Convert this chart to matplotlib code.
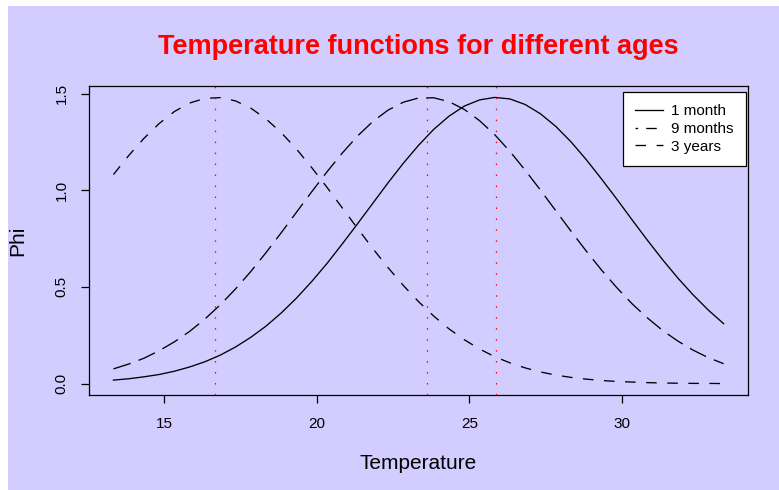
import matplotlib
matplotlib.use("Agg")
import matplotlib.pyplot as plt
from matplotlib.lines import Line2D
from matplotlib.patches import Rectangle

plt.rcParams['font.family'] = ['Liberation Sans', 'DejaVu Sans']
plt.rcParams['lines.scale_dashes'] = False

# ---- data ----
temperature = [13.33, 13.83, 14.33, 14.83, 15.33, 15.83, 16.33, 16.83, 17.33, 17.83,
               18.33, 18.83, 19.33, 19.83, 20.33, 20.83, 21.33, 21.83, 22.33, 22.83,
               23.33, 23.83, 24.33, 24.83, 25.33, 25.83, 26.33, 26.83, 27.33, 27.83,
               28.33, 28.83, 29.33, 29.83, 30.33, 30.83, 31.33, 31.83, 32.33, 32.83,
               33.33]
phi_1month = [0.018, 0.025, 0.035, 0.047, 0.064, 0.086, 0.113, 0.147, 0.189, 0.239,
              0.297, 0.365, 0.442, 0.528, 0.621, 0.722, 0.826, 0.932, 1.038, 1.139,
              1.232, 1.315, 1.383, 1.435, 1.467, 1.480, 1.472, 1.443, 1.395, 1.330,
              1.250, 1.158, 1.058, 0.954, 0.847, 0.742, 0.641, 0.546, 0.459, 0.380,
              0.310]
phi_9months = [0.076, 0.101, 0.131, 0.170, 0.216, 0.270, 0.334, 0.407, 0.489, 0.579,
               0.677, 0.780, 0.886, 0.992, 1.095, 1.192, 1.280, 1.355, 1.414, 1.455,
               1.477, 1.478, 1.458, 1.418, 1.360, 1.287, 1.200, 1.103, 1.000, 0.894,
               0.788, 0.685, 0.587, 0.496, 0.413, 0.340, 0.275, 0.220, 0.173, 0.134,
               0.103]
phi_3years = [1.081, 1.179, 1.268, 1.345, 1.407, 1.451, 1.475, 1.479, 1.462, 1.425,
              1.369, 1.298, 1.213, 1.117, 1.015, 0.909, 0.803, 0.699, 0.600, 0.508,
              0.424, 0.349, 0.283, 0.227, 0.179, 0.139, 0.107, 0.081, 0.060, 0.044,
              0.032, 0.023, 0.016, 0.011, 0.008, 0.005, 0.003, 0.002, 0.001, 0.001,
              0.000]
optimum_temps = [25.88, 23.6, 16.67]
series_labels = ["1 month", "9 months", "3 years"]
x_ticks = [15, 20, 25, 30]
y_ticks = [0.0, 0.5, 1.0, 1.5]
y_ticklabels = ["0.0", "0.5", "1.0", "1.5"]

BG = '#d3ccff'
W, H = 779, 490
fig = plt.figure(figsize=(W / 100, H / 100), dpi=100)
fig.patch.set_facecolor('white')
fig.patches.append(Rectangle((8 / W, 0), 1 - 8 / W, 1 - 6 / H, transform=fig.transFigure,
                             facecolor=BG, edgecolor='none', zorder=-10))

ax = fig.add_axes([89 / W, 1 - 395 / H, (748 - 89) / W, (395 - 86) / H])
ax.set_facecolor('none')

lw = 0.95
dashed = (0, (7.6, 7.6))
longdash = (0, (13.0, 6.1))
dotdash = (0, (1.9, 5.8, 7.6, 5.8))

ax.plot(temperature, phi_1month, color='black', lw=lw, linestyle='-')
ax.plot(temperature, phi_9months, color='black', lw=lw, linestyle=longdash)
ax.plot(temperature, phi_3years, color='black', lw=lw, linestyle=dashed)

for t in optimum_temps:
    ax.axvline(t, color='red', lw=0.9, linestyle=(0, (1.1, 6.8)))

ax.set_xlim(12.53, 34.13)
ax.set_ylim(-0.059, 1.539)
ax.set_xticks(x_ticks)
ax.set_yticks(y_ticks)
ax.set_yticklabels(y_ticklabels, rotation=90, va='center')
ax.tick_params(axis='both', direction='out', length=5.5, width=0.9, labelsize=11,
               colors='black')
ax.tick_params(axis='x', pad=10)
ax.tick_params(axis='y', pad=9)
for s in ax.spines.values():
    s.set_linewidth(0.9)
    s.set_color('black')

ax.set_xlabel("Temperature", fontsize=15, labelpad=17)
ax.set_ylabel("Phi", fontsize=15, labelpad=20)

fig.text((89 + 748) / 2 / W, 1 - 47 / H, "Temperature functions for different ages",
         color='red', fontsize=19.5, fontweight='bold', ha='center', va='center')

handles = [Line2D([], [], color='black', lw=lw, linestyle='-'),
           Line2D([], [], color='black', lw=lw, linestyle=dotdash),
           Line2D([], [], color='black', lw=lw, linestyle=dashed)]
leg = ax.legend(handles, series_labels, loc='upper right', bbox_to_anchor=(0.997, 0.981),
                borderaxespad=0, fontsize=11, frameon=True, fancybox=False,
                framealpha=1, edgecolor='black', facecolor='white',
                handlelength=1.8, handletextpad=0.55, labelspacing=0.25,
                borderpad=0.8)
leg.get_frame().set_linewidth(0.9)

fig.savefig("out.png", dpi=100)
